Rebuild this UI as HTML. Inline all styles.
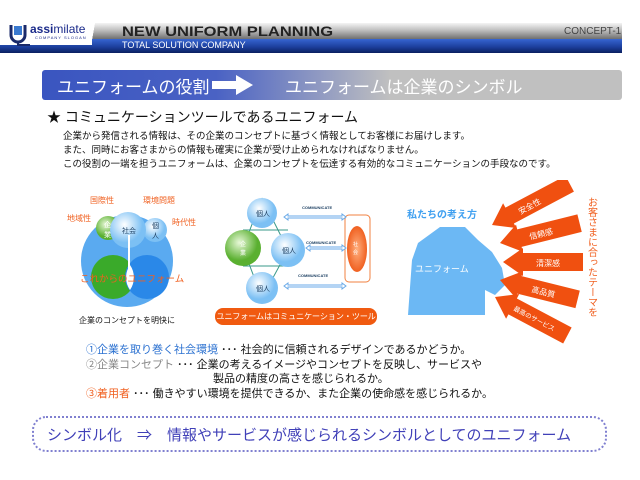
<!DOCTYPE html>
<html><head><meta charset="utf-8"><style>
body{margin:0;width:640px;height:480px;background:#fff;position:relative;overflow:hidden;font-family:"Liberation Sans","Noto Sans CJK JP",sans-serif;}
.a{position:absolute;white-space:nowrap;}
</style></head><body>
<!-- header -->
<div class="a" style="left:0;top:38px;width:622px;height:15px;background:linear-gradient(#3a6ad8,#1c3f9c 60%,#0a2060);"></div>
<div class="a" style="left:90px;top:23px;width:532px;height:16px;background:linear-gradient(#f4f4f4,#b8b8b8 50%,#707070);"></div>
<div class="a" style="left:0;top:22px;width:92px;height:23px;background:#fff;"></div>
<div class="a" style="left:86px;top:23px;width:14px;height:22px;background:linear-gradient(100deg,#fff 50%,transparent 51%);"></div>
<svg class="a" style="left:8px;top:22px" width="22" height="24"><path d="M3 3v10a7 7 0 0 0 14 0V3" fill="none" stroke="#1a2a6a" stroke-width="3"/><rect x="6" y="4" width="8" height="9" fill="#3a7ad0"/><path d="M10 20v3h12" stroke="#1a2a6a" stroke-width="2" fill="none"/></svg>
<div class="a" style="left:30px;top:22px;font-size:12px;font-weight:bold;color:#1a2a8a;">assi<span style="font-weight:normal">milate</span></div>
<div class="a" style="left:35px;top:35px;font-size:4px;color:#1a2a8a;letter-spacing:1px;">COMPANY SLOGAN</div>
<div class="a" style="left:122px;top:23px;font-size:14px;font-weight:bold;color:#222;transform:scaleX(1.18);transform-origin:left;">NEW UNIFORM PLANNING</div>
<div class="a" style="left:122px;top:40px;font-size:9px;color:#fff;">TOTAL SOLUTION COMPANY</div>
<div class="a" style="left:564px;top:26px;font-size:10px;color:#444;">CONCEPT-1</div>
<!-- banner -->
<div class="a" style="left:42px;top:70px;width:580px;height:30px;border-radius:3px;background:linear-gradient(90deg,#3a55c0 0%,#4a62c4 30%,#c0c0c0 60%,#c0c0c0 100%);"></div>
<div class="a" style="left:57px;top:73px;font-size:17px;color:#fff;">ユニフォームの役割</div>
<svg class="a" style="left:212px;top:75px" width="42" height="20"><path d="M0 6h24V0l17 10-17 10v-6H0z" fill="#fff"/></svg>
<div class="a" style="left:285px;top:73px;font-size:17px;color:#fff;">ユニフォームは企業のシンボル</div>
<!-- heading -->
<div class="a" style="left:47px;top:107px;font-size:14px;color:#111;">★ コミュニケーションツールであるユニフォーム</div>
<div class="a" style="left:63px;top:130px;font-size:9.5px;line-height:14px;color:#111;">企業から発信される情報は、その企業のコンセプトに基づく情報としてお客様にお届けします。<br>また、同時にお客さまからの情報も確実に企業が受け止められなければなりません。<br>この役割の一端を担うユニフォームは、企業のコンセプトを伝達する有効的なコミュニケーションの手段なのです。</div>
<!-- left diagram -->
<svg class="a" style="left:60px;top:195px" width="140" height="135">
<defs><radialGradient id="lb" cx=".4" cy=".35"><stop offset="0" stop-color="#fff"/><stop offset="1" stop-color="#7cc0f4"/></radialGradient>
<radialGradient id="lg" cx=".4" cy=".35"><stop offset="0" stop-color="#e8f8d8"/><stop offset="1" stop-color="#5ab030"/></radialGradient></defs>
<circle cx="67" cy="66" r="46" fill="#5aaaf0"/>
<circle cx="53" cy="82" r="22" fill="#3aaa2a"/>
<circle cx="87" cy="82" r="22" fill="#2a88e8"/>
<path d="M70 70a22 22 0 0 1 0 25a22 22 0 0 1 0-25z" fill="#fff"/>
<circle cx="48" cy="33" r="12" fill="url(#lg)"/>
<circle cx="95" cy="35" r="12" fill="url(#lb)"/>
<circle cx="68" cy="35" r="18" fill="url(#lb)"/>
<line x1="69" y1="40" x2="69" y2="75" stroke="#fff" stroke-width="2"/>
<text x="44" y="32" font-size="7" fill="#fff">企</text><text x="44" y="42" font-size="7" fill="#fff">業</text>
<text x="62" y="38" font-size="7" fill="#246">社会</text>
<text x="92" y="33" font-size="7" fill="#246">個</text><text x="92" y="43" font-size="7" fill="#246">人</text>
</svg>
<div class="a" style="left:80px;top:271px;font-size:9.5px;color:#f06020;">これからのユニフォーム</div>
<div class="a" style="left:90px;top:195px;font-size:8px;color:#f06020;">国際性</div>
<div class="a" style="left:143px;top:195px;font-size:8px;color:#f06020;">環境問題</div>
<div class="a" style="left:67px;top:213px;font-size:8px;color:#f06020;">地域性</div>
<div class="a" style="left:172px;top:217px;font-size:8px;color:#f06020;">時代性</div>
<div class="a" style="left:79px;top:315px;font-size:8px;color:#111;">企業のコンセプトを明快に</div>
<!-- middle diagram -->
<svg class="a" style="left:220px;top:190px" width="160" height="120">
<defs><radialGradient id="mb" cx=".4" cy=".35"><stop offset="0" stop-color="#fff"/><stop offset="1" stop-color="#7cc0f4"/></radialGradient>
<radialGradient id="mg" cx=".4" cy=".35"><stop offset="0" stop-color="#e8f8d8"/><stop offset="1" stop-color="#5ab030"/></radialGradient>
<radialGradient id="mo" cx=".5" cy=".5"><stop offset="0" stop-color="#ffb080"/><stop offset="1" stop-color="#f06020"/></radialGradient></defs>
<path d="M42 8L23 58L42 108M42 8L68 60L42 108M23 40h45M23 76h45" stroke="#3a9a8a" stroke-width="1" fill="none"/>
<circle cx="42" cy="23" r="15" fill="url(#mb)"/>
<circle cx="23" cy="58" r="18" fill="url(#mg)"/>
<circle cx="68" cy="60" r="17" fill="url(#mb)"/>
<circle cx="42" cy="98" r="16" fill="url(#mb)"/>
<text x="36" y="26" font-size="7" fill="#246">個人</text>
<text x="20" y="56" font-size="6" fill="#fff">企</text><text x="20" y="65" font-size="6" fill="#fff">業</text>
<text x="62" y="63" font-size="7" fill="#246">個人</text>
<text x="36" y="101" font-size="7" fill="#246">個人</text>
<rect x="125" y="25" width="25" height="67" rx="4" fill="none" stroke="#f08040"/>
<ellipse cx="137" cy="59" rx="10" ry="23" fill="url(#mo)"/>
<text x="133" y="56" font-size="5" fill="#fff">社</text><text x="133" y="64" font-size="5" fill="#fff">会</text>
<g stroke="#6aaae8" fill="#fff" stroke-width="1">
<path d="M64 27l4-3v2h54v-2l4 3-4 3v-2H68v2z"/>
<path d="M86 58l4-3v2h32v-2l4 3-4 3v-2H90v2z"/>
<path d="M64 96l4-3v2h54v-2l4 3-4 3v-2H68v2z"/>
</g>
<text x="82" y="19" font-size="4" fill="#246" font-weight="bold">COMMUNICATE</text>
<text x="86" y="54" font-size="4" fill="#246" font-weight="bold">COMMUNICATE</text>
<text x="78" y="87" font-size="4" fill="#246" font-weight="bold">COMMUNICATE</text>
</svg>
<div class="a" style="left:215px;top:308px;width:162px;height:17px;border-radius:8px;background:#f05a10;color:#fff;font-size:8.2px;letter-spacing:-0.2px;line-height:17px;text-align:center;">ユニフォームはコミュニケーション・ツール</div>
<!-- right diagram -->
<div class="a" style="left:407px;top:206px;font-size:10px;font-weight:bold;color:#40a0f0;">私たちの考え方</div>
<svg class="a" style="left:395px;top:180px" width="245" height="170">
<path d="M45 47L70 47L83 60L97 72L107 88L110 105L100 115L90 110L90 135L13 135L17 80L23 63Z" fill="#6cb8f4"/>
<text x="20" y="92" font-size="9" fill="#fff">ユニフォーム</text>
<g fill="#f05010">
<g transform="translate(97,45) rotate(-28)"><path d="M0 0L20-14V-9H88V9H20V14Z"/><text x="30" y="4" font-size="8" fill="#fff">安全性</text></g>
<g transform="translate(105,63) rotate(-14)"><path d="M0 0L20-14V-9H82V9H20V14Z"/><text x="30" y="4" font-size="8" fill="#fff">信頼感</text></g>
<g transform="translate(108,82)"><path d="M0 0L20-14V-9H80V9H20V14Z"/><text x="33" y="4" font-size="8" fill="#fff">清潔感</text></g>
<g transform="translate(105,100) rotate(14)"><path d="M0 0L20-14V-9H80V9H20V14Z"/><text x="33" y="4" font-size="8" fill="#fff">高品質</text></g>
<g transform="translate(100,117) rotate(28)"><path d="M0 0L20-14V-9H82V9H20V14Z"/><text x="22" y="3" font-size="6.5" fill="#fff">最高のサービス</text></g>
</g>
</svg>
<div class="a" style="left:585px;top:197px;font-size:10px;line-height:10.5px;color:#f06020;writing-mode:vertical-rl;">お客さまに合ったテーマを</div>
<!-- bottom list -->
<div class="a" style="left:86px;top:343px;font-size:11px;line-height:14.5px;color:#111;">
<span style="color:#2a70d0">①企業を取り巻く社会環境</span> ･･･ 社会的に信頼されるデザインであるかどうか。<br>
<span style="color:#888">②企業コンセプト</span> ･･･ 企業の考えるイメージやコンセプトを反映し、サービスや<br>
<span style="padding-left:127px">製品の精度の高さを感じられるか。</span><br>
<span style="color:#f06020">③着用者</span> ･･･ 働きやすい環境を提供できるか、また企業の使命感を感じられるか。</div>
<div class="a" style="left:32px;top:416px;width:571px;height:32px;border:2px dotted #8080d0;border-radius:14px;"></div>
<div class="a" style="left:47px;top:424px;font-size:15px;color:#4040b8;">シンボル化　⇒　情報やサービスが感じられるシンボルとしてのユニフォーム</div>
</body></html>
